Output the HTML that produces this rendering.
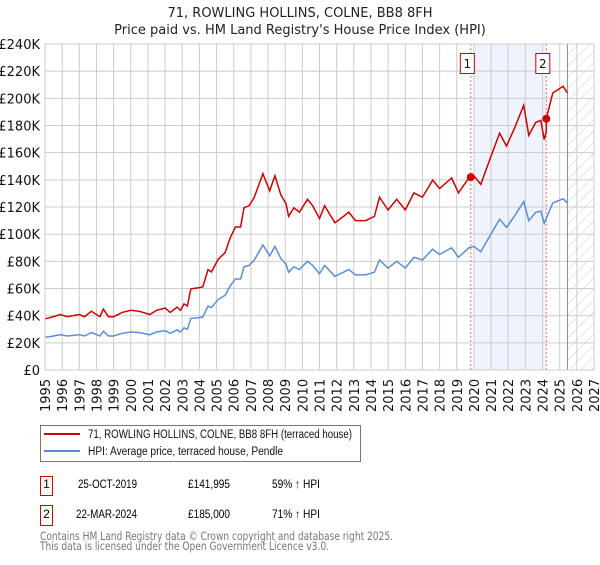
<!DOCTYPE html>
<html><head><meta charset="utf-8"><style>
body{margin:0;background:#fff;font-family:"Liberation Sans","DejaVu Sans",sans-serif}
svg text{font-family:"DejaVu Sans","Liberation Sans",sans-serif}
svg text.lib{font-family:"Liberation Sans","DejaVu Sans",sans-serif}
</style></head><body>
<svg id="chart" width="600" height="560" viewBox="0 0 600 560" xmlns="http://www.w3.org/2000/svg">
<defs><pattern id="hatch" width="8" height="8" patternUnits="userSpaceOnUse" patternTransform="rotate(45)"><line x1="0" y1="0" x2="0" y2="8" stroke="#ccc" stroke-width="1"/></pattern></defs>
<text x="300" y="17" text-anchor="middle" font-size="13" fill="#222">71, ROWLING HOLLINS, COLNE, BB8 8FH</text>
<text x="300" y="34" text-anchor="middle" font-size="13" fill="#222">Price paid vs. HM Land Registry's House Price Index (HPI)</text>
<g id="grid"></g><g id="marks"></g><g id="axes"></g>
<g>
<rect x="40.5" y="425.5" width="320" height="36" fill="#fff" stroke="#777"/>
<line x1="44" y1="434" x2="80" y2="434" stroke="#cc0000" stroke-width="2"/>
<text class="lib" x="88" y="438" font-size="11.5" fill="#111" textLength="264" lengthAdjust="spacingAndGlyphs">71, ROWLING HOLLINS, COLNE, BB8 8FH (terraced house)</text>
<line x1="44" y1="451" x2="80" y2="451" stroke="#5b8fd4" stroke-width="2"/>
<text class="lib" x="88" y="455" font-size="11.5" fill="#111" textLength="195" lengthAdjust="spacingAndGlyphs">HPI: Average price, terraced house, Pendle</text>
</g>
<g>
<rect x="40.5" y="476.5" width="12" height="19" fill="#fff" stroke="#cc0000"/>
<text class="lib" x="46.5" y="488" text-anchor="middle" font-size="12">1</text>
<text class="lib" x="78" y="488" font-size="12" textLength="59" lengthAdjust="spacingAndGlyphs">25-OCT-2019</text>
<text class="lib" x="188" y="488" font-size="12" textLength="42" lengthAdjust="spacingAndGlyphs">£141,995</text>
<text class="lib" x="272" y="488" font-size="12" textLength="48" lengthAdjust="spacingAndGlyphs">59% ↑ HPI</text>
<rect x="40.5" y="505.5" width="12" height="20" fill="#fff" stroke="#cc0000"/>
<text class="lib" x="46.5" y="518" text-anchor="middle" font-size="12">2</text>
<text class="lib" x="76" y="518" font-size="12" textLength="61" lengthAdjust="spacingAndGlyphs">22-MAR-2024</text>
<text class="lib" x="188" y="518" font-size="12" textLength="42" lengthAdjust="spacingAndGlyphs">£185,000</text>
<text class="lib" x="272" y="518" font-size="12" textLength="48" lengthAdjust="spacingAndGlyphs">71% ↑ HPI</text>
</g>
<text x="40" y="540" font-size="11.5" fill="#777" textLength="353" lengthAdjust="spacingAndGlyphs">Contains HM Land Registry data © Crown copyright and database right 2025.</text>
<text x="40" y="550" font-size="11.5" fill="#777" textLength="289" lengthAdjust="spacingAndGlyphs">This data is licensed under the Open Government Licence v3.0.</text>
</svg>
<script>
const hpiYears=[1995,1995.5,1995.9,1996.3,1997,1997.3,1997.7,1998.2,1998.4,1998.7,1999,1999.5,2000,2000.5,2001.1,2001.5,2002,2002.3,2002.7,2002.9,2003.1,2003.3,2003.5,2003.9,2004.2,2004.5,2004.7,2005.1,2005.5,2005.8,2006.1,2006.4,2006.6,2006.9,2007.2,2007.7,2008.1,2008.4,2008.75,2009.05,2009.2,2009.5,2009.83,2010.3,2010.6,2011,2011.3,2011.9,2012.4,2012.7,2013.1,2013.7,2014.2,2014.5,2015,2015.5,2016,2016.5,2017,2017.6,2018,2018.7,2019.1,2019.7,2020,2020.4,2020.9,2021.5,2021.9,2022.4,2022.9,2023.2,2023.6,2023.9,2024.1,2024.6,2025.2,2025.45];
const hpiValues=[24,25,26,25,26,25,27.5,25,28.5,25,25,27,28,27.5,26,28,29,27,29.5,28,31,30,38,38.5,39,47,46,52,55,62,67,67,76,77,81,92,84,91,82,78,72,76,74,80,77,71,77,69,72,74,70,70,72,81,75,80,75,83,81,89,85,90,83,90,91,87,98,111,105,114,124,110,116,117,108,123,126,123];
const saleYears=[2019.82,2024.22];
const salePrices=[141995,185000];
const saleLabels=["1","2"];
const yTicks=[0,20,40,60,80,100,120,140,160,180,200,220,240];
const xTicks=[1995,1996,1997,1998,1999,2000,2001,2002,2003,2004,2005,2006,2007,2008,2009,2010,2011,2012,2013,2014,2015,2016,2017,2018,2019,2020,2021,2022,2023,2024,2025,2026,2027];
const X0=45,X1=594,Y0=370,Y1=44;
const xs=y=>X0+(y-1995)/(2027-1995)*(X1-X0);
const ys=v=>Y0-v/240*(Y0-Y1);
const NS="http://www.w3.org/2000/svg";
function mk(tag,attrs,parent){const e=document.createElementNS(NS,tag);for(const k in attrs)e.setAttribute(k,attrs[k]);parent.appendChild(e);return e;}
const grid=document.getElementById('grid'),marks=document.getElementById('marks'),axes=document.getElementById('axes');
function hpiAt(t){for(let i=0;i<hpiYears.length-1;i++){if(t<=hpiYears[i+1]){const f=(t-hpiYears[i])/(hpiYears[i+1]-hpiYears[i]);return hpiValues[i]+f*(hpiValues[i+1]-hpiValues[i]);}}return hpiValues[hpiValues.length-1];}
let r=mk('rect',{x:xs(2020),y:Y1,width:xs(saleYears[1])-xs(2020),height:Y0-Y1,fill:'#eef3fd'},grid);


r=mk('rect',{x:xs(2025.45),y:Y1,width:X1-xs(2025.45),height:Y0-Y1,fill:'url(#hatch)'},grid);


yTicks.forEach(v=>{const l=mk('line',{x1:X0,x2:X1,y1:ys(v),y2:ys(v),stroke:'#ccc'},grid);


const t=mk('text',{x:40,y:ys(v)+5,'text-anchor':'end','font-size':13,fill:'#111'},axes);t.textContent=v===0?'£0':'£'+v+'K';

});
xTicks.forEach(y=>{const l=mk('line',{x1:xs(y),x2:xs(y),y1:Y1,y2:Y0,stroke:'#ccc'},grid);


const t=mk('text',{x:0,y:0,'font-size':13,fill:'#111',transform:`translate(${xs(y)+5},${412}) rotate(-90)`},axes);t.textContent=y;

});
let vl=mk('line',{x1:xs(2025.45),x2:xs(2025.45),y1:Y1,y2:Y0,stroke:'#888'},grid);


saleYears.forEach((sy,i)=>{const l=mk('line',{x1:xs(sy),x2:xs(sy),y1:Y1,y2:Y0,stroke:'#e57373','stroke-dasharray':'2,2'},marks);

});
let d=hpiYears.map((y,i)=>(i?'L':'M')+xs(y).toFixed(1)+','+ys(hpiValues[i]).toFixed(1)).join('');
let p=mk('path',{d:d,fill:'none',stroke:'#5b8fd4','stroke-width':1.5},marks);


const k0=salePrices[0]/1000/hpiAt(saleYears[0]),k1=salePrices[1]/1000/hpiAt(saleYears[1]);
let pts=[];hpiYears.forEach((y,i)=>{if(y<saleYears[1])pts.push([y,hpiValues[i]*k0]);});
pts.push([saleYears[1],hpiAt(saleYears[1])*k0]);pts.push([saleYears[1],salePrices[1]/1000]);
hpiYears.forEach((y,i)=>{if(y>saleYears[1])pts.push([y,hpiValues[i]*k1]);});
d=pts.map((q,i)=>(i?'L':'M')+xs(q[0]).toFixed(1)+','+ys(q[1]).toFixed(1)).join('');
p=mk('path',{d:d,fill:'none',stroke:'#cc0000','stroke-width':1.5},marks);


saleYears.forEach((sy,i)=>{const c=mk('circle',{cx:xs(sy),cy:ys(salePrices[i]/1000),r:4,fill:'#cc0000'},marks);


const b=mk('rect',{x:xs(sy)-10.5,y:53.5,width:14,height:20,fill:'#fff',stroke:'#cc0000'},marks);


const t=mk('text',{x:xs(sy)-3.5,y:68,'text-anchor':'middle','font-size':12,fill:'#111'},marks);t.textContent=saleLabels[i];

});
let fr=mk('rect',{x:X0,y:Y1,width:X1-X0,height:Y0-Y1,fill:'none',stroke:'#ccc'},axes);


</script>
</body></html>
